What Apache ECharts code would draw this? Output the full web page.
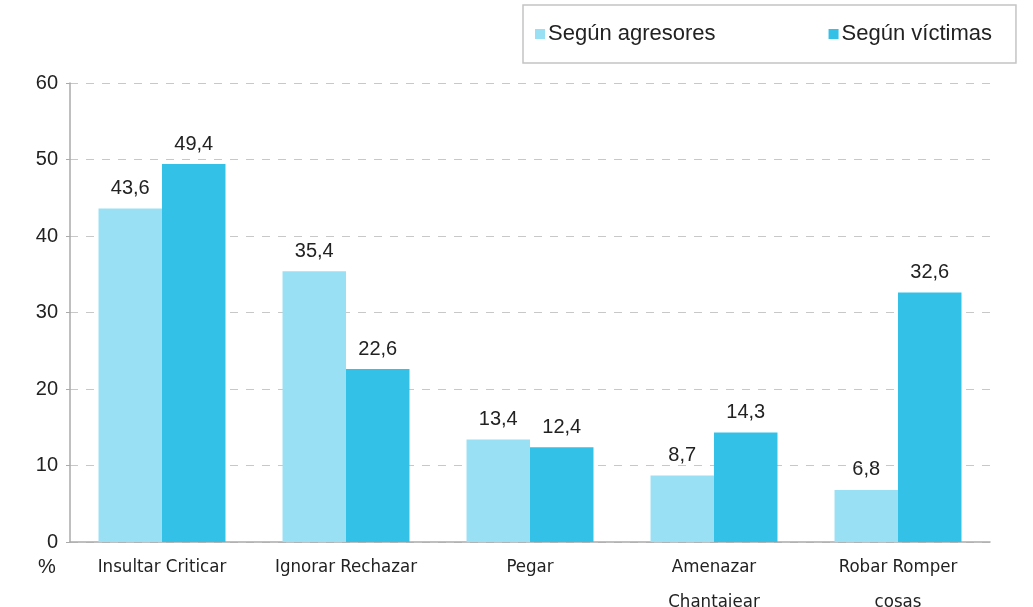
<!DOCTYPE html>
<html>
<head>
<meta charset="utf-8">
<script src="https://cdn.jsdelivr.net/npm/echarts@6/dist/echarts.min.js"></script>
<style>
  html, body { margin: 0; padding: 0; background: #fff; }
  #chart { width: 1033px; height: 607px; }
</style>
</head>
<body>
<div id="chart"></div>
<script>
// datos
var categorias = ['Insultar Criticar', 'Ignorar Rechazar', 'Pegar', 'Amenazar\nChantajear', 'Robar Romper\ncosas'];
var agresores = [43.6, 35.4, 13.4, 8.7, 6.8];
var victimas = [49.4, 22.6, 12.4, 14.3, 32.6];
var nombres = ['Según agresores', 'Según víctimas'];

var chart = echarts.init(document.getElementById('chart'));

function etiqueta(p) {
  return String(p.value).replace('.', ',');
}

var option = {
  animation: false,
  textStyle: { fontFamily: 'Liberation Sans, Arial, sans-serif' },
  legend: {
    data: nombres,
    left: 523,
    top: 5,
    padding: [18, 24, 18, 12],
    itemGap: 113,
    itemWidth: 10,
    itemHeight: 10,
    icon: 'rect',
    borderColor: '#c4c4c4',
    borderWidth: 1.5,
    textStyle: { fontSize: 22, color: '#222', padding: [0, 0, 0, -2] }
  },
  grid: { left: 70, right: 43, top: 83, bottom: 65, outerBoundsMode: 'none' },
  xAxis: {
    type: 'category',
    data: categorias,
    axisLine: { lineStyle: { color: '#aaa', width: 1.5 } },
    axisTick: { show: false },
    axisLabel: {
      interval: 0,
      fontFamily: 'Liberation Sans Narrow, DejaVu Sans Condensed, sans-serif',
      fontSize: 18.5,
      color: '#222',
      lineHeight: 35,
      margin: 8
    }
  },
  yAxis: {
    type: 'value',
    min: 0,
    max: 60,
    interval: 10,
    name: '%',
    nameLocation: 'start',
    nameGap: 15,
    nameTextStyle: { fontSize: 20, color: '#222', padding: [0, 46, 0, 0] },
    axisLine: { show: true, lineStyle: { color: '#aaa', width: 1.5 } },
    axisTick: { show: true, length: 4, lineStyle: { color: '#aaa' } },
    axisLabel: { fontSize: 20, color: '#222', margin: 12 },
    splitLine: { lineStyle: { color: '#c8c8c8', type: [8, 8], width: 1 } }
  },
  series: [
    {
      name: nombres[0],
      type: 'bar',
      data: agresores,
      barGap: '0%',
      barCategoryGap: '31%',
      itemStyle: { color: '#9ae0f5' },
      label: { show: true, position: 'top', distance: 10, fontSize: 20, color: '#222', formatter: etiqueta }
    },
    {
      name: nombres[1],
      type: 'bar',
      data: victimas,
      barGap: '0%',
      barCategoryGap: '31%',
      itemStyle: { color: '#33c1e8' },
      label: { show: true, position: 'top', distance: 10, fontSize: 20, color: '#222', formatter: etiqueta }
    }
  ]
};

chart.setOption(option);
</script>
</body>
</html>
